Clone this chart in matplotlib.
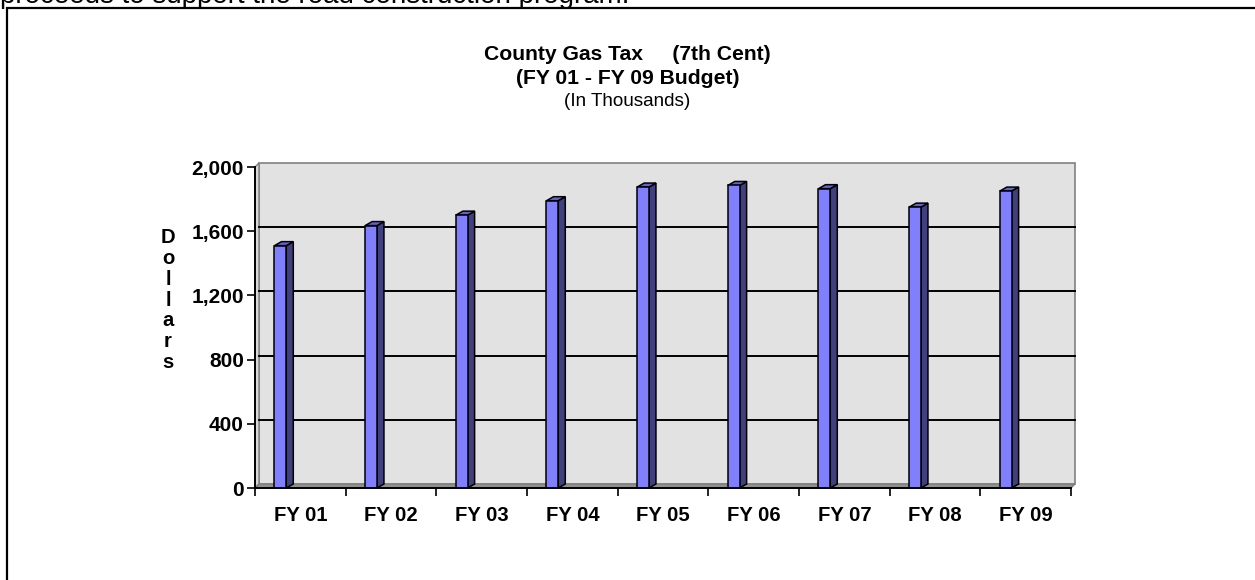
import matplotlib
matplotlib.use("Agg")
import matplotlib.pyplot as plt
from matplotlib.patches import Polygon, Rectangle
from matplotlib.lines import Line2D

plt.rcParams["font.family"] = ["Liberation Sans", "DejaVu Sans"]

years = ["FY 01", "FY 02", "FY 03", "FY 04", "FY 05", "FY 06", "FY 07", "FY 08", "FY 09"]
values = [1510, 1635, 1700, 1790, 1875, 1885, 1865, 1750, 1850]
y_ticks = [0, 400, 800, 1200, 1600, 2000]

W, H = 1255, 580
fig = plt.figure(figsize=(W / 100, H / 100), dpi=100)
ax = fig.add_axes([255 / W, 1 - 488 / H, 816 / W, 321 / H])
ax.set_xlim(-0.5, len(years) - 0.5)
ax.set_ylim(0, 2000)
for s in ax.spines.values():
    s.set_visible(False)
ax.patch.set_visible(False)

# pixel -> data conversions for the fake 3d depth
px_x = 816 / len(years)
px_y = 321 / 2000
wall_dx, wall_dy = 4 / px_x, 4 / px_y
bar_dx, bar_dy = 7 / px_x, 4 / px_y
x0, x1 = -0.5, len(years) - 0.5

# back wall, side wall and floor
ax.add_patch(Polygon([(x0 + wall_dx, wall_dy), (x1 + wall_dx, wall_dy),
                      (x1 + wall_dx, 2000 + wall_dy), (x0 + wall_dx, 2000 + wall_dy)],
                     closed=True, facecolor="#e2e2e2", edgecolor="#808080", lw=1.2, clip_on=False, zorder=0))
ax.add_patch(Polygon([(x0, 0), (x0 + wall_dx, wall_dy), (x0 + wall_dx, 2000 + wall_dy), (x0, 2000)],
                     closed=True, facecolor="#d8d8d8", edgecolor="#808080", lw=1.0, clip_on=False, zorder=0))
ax.add_patch(Polygon([(x0, 0), (x1, 0), (x1 + wall_dx, wall_dy), (x0 + wall_dx, wall_dy)],
                     closed=True, facecolor="#909090", edgecolor="#808080", lw=1.0, clip_on=False, zorder=0))

# gridlines on the back wall
for t in y_ticks[1:-1]:
    ax.add_line(Line2D([x0 + wall_dx, x1 + wall_dx], [t + wall_dy, t + wall_dy],
                       color="black", lw=1.4, zorder=1, clip_on=False))

# bars
off, width = -0.22, 0.13
for i, v in enumerate(values):
    left = i + off - width / 2
    right = left + width
    ax.add_patch(Polygon([(right, 0), (right + bar_dx, bar_dy), (right + bar_dx, v + bar_dy), (right, v)],
                         closed=True, facecolor="#404080", edgecolor="black", lw=1.1, zorder=2, clip_on=False))
    ax.add_patch(Polygon([(left, v), (right, v), (right + bar_dx, v + bar_dy), (left + bar_dx, v + bar_dy)],
                         closed=True, facecolor="#6464c8", edgecolor="black", lw=1.1, zorder=2, clip_on=False))
ax.bar([i + off for i in range(len(years))], values, width=width, color="#8080ff",
       edgecolor="black", lw=1.1, zorder=3, clip_on=False)

# front axes lines
ax.add_line(Line2D([x0, x0], [0, 2000], color="black", lw=1.4, zorder=4, clip_on=False))
ax.add_line(Line2D([x0, x1], [0, 0], color="black", lw=1.4, zorder=4, clip_on=False))

ax.set_yticks(y_ticks)
ax.set_yticklabels([f"{t:,}" for t in y_ticks], fontsize=15, fontweight="bold")
ax.tick_params(axis="y", direction="out", length=6, width=1.2, pad=2)
ax.set_xticks(range(len(years)))
ax.set_xticklabels(years, fontsize=14.6, fontweight="bold")
ax.set_xticks([i - 0.5 for i in range(len(years) + 1)], minor=True)
ax.tick_params(axis="x", which="major", length=0, pad=13)
ax.tick_params(axis="x", which="minor", direction="out", length=6, width=1.2)

fig.text(168 / W, 1 - 300 / H, "\n".join("Dollars"), ha="center", va="center",
         fontsize=14.6, fontweight="bold", linespacing=1.12)

fig.text(0.5, 1 - 55 / H, "County Gas Tax     (7th Cent)", ha="center", va="center",
         fontsize=15.2, fontweight="bold")
fig.text(0.5, 1 - 79 / H, "(FY 01 - FY 09 Budget)", ha="center", va="center",
         fontsize=15.2, fontweight="bold")
fig.text(0.5, 1 - 101 / H, "(In Thousands)", ha="center", va="center", fontsize=13.6)

# cut-off line of body text above the chart frame
fig.text(0, 1 - 3 / H, "proceeds to support the road construction program.", ha="left",
         va="baseline", fontsize=20)

# page frame around the chart
fig.add_artist(Rectangle((7 / W, -0.2), 2, 1.2 - 8 / H, transform=fig.transFigure,
                         fill=False, edgecolor="black", lw=1.6))

fig.savefig("out.png", dpi=100)
